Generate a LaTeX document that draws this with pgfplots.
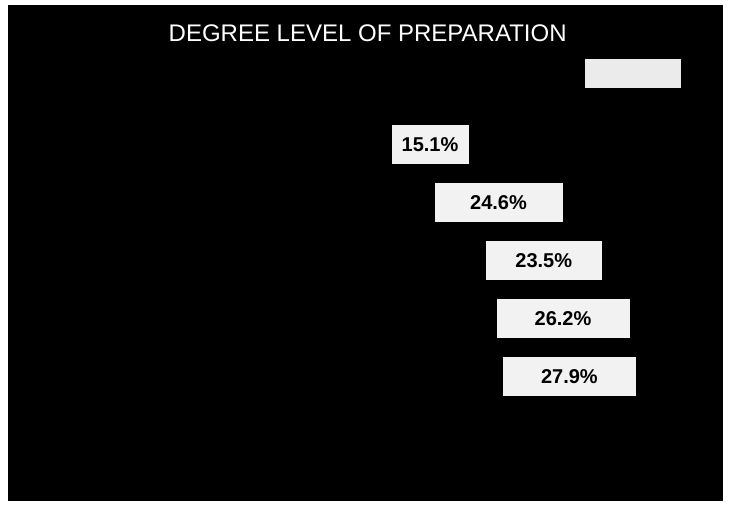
\documentclass[border=0pt]{standalone}
\usepackage{pgfplots}
\pgfplotsset{compat=1.18}
\usepackage{pgfplotstable}
\usepackage{fontspec}
\setmainfont{Liberation Sans}

% y = category position, v = percentage, w = label box width (pt), dx = label shift (pt)
\pgfplotstableread{
y v w dx
1 15.1 38.5 0.2
2 24.6 64.0 -17.4
3 23.5 58.0 11.2
4 26.2 66.5 6.1
5 27.9 66.5 0.0
}\prepdata

\begin{document}
\begin{tikzpicture}
\path[fill=white] (0pt,0pt) rectangle (365.5pt,253pt);
\begin{axis}[
  at={(4pt,2.5pt)}, anchor=south west,
  width=357.5pt, height=248pt, scale only axis,
  axis background/.style={fill=black},
  axis line style={draw=none},
  xtick=\empty, ytick=\empty,
  xmin=-23.51, xmax=41.97,
  ymin=-1.414, ymax=7.138, y dir=reverse,
  xbar, bar width=20pt,
  title={DEGREE LEVEL OF PREPARATION},
  every axis title shift=0pt,
  title style={at={(axis description cs:0.503,0.9435)}, anchor=center, yshift=0pt,
    text=white, font=\fontsize{12}{14}\selectfont},
  legend entries={\phantom{\rule{42pt}{7pt}}},
  legend image code/.code={},
  legend style={at={(axis description cs:0.874,0.862)}, anchor=center,
    fill=white!92!black, draw=none, inner sep=1pt},
  /pgf/number format/assume math mode=true,
]
\addplot[
  fill=black, draw=none,
  point meta=x,
  visualization depends on={\thisrow{w} \as \boxw},
  visualization depends on={\thisrow{dx} \as \boxdx},
  nodes near coords={\pgfmathprintnumber[fixed,precision=1,fixed zerofill]{\pgfplotspointmeta}\%},
  every node near coord/.append style={anchor=center, fill=white!95!black,
    text=black, font=\bfseries\fontsize{10}{12}\selectfont,
    minimum width=\boxw pt, minimum height=19.5pt, inner sep=0pt,
    xshift=\boxdx pt},
] table[x=v, y=y] {\prepdata};
\end{axis}
\end{tikzpicture}
\end{document}
